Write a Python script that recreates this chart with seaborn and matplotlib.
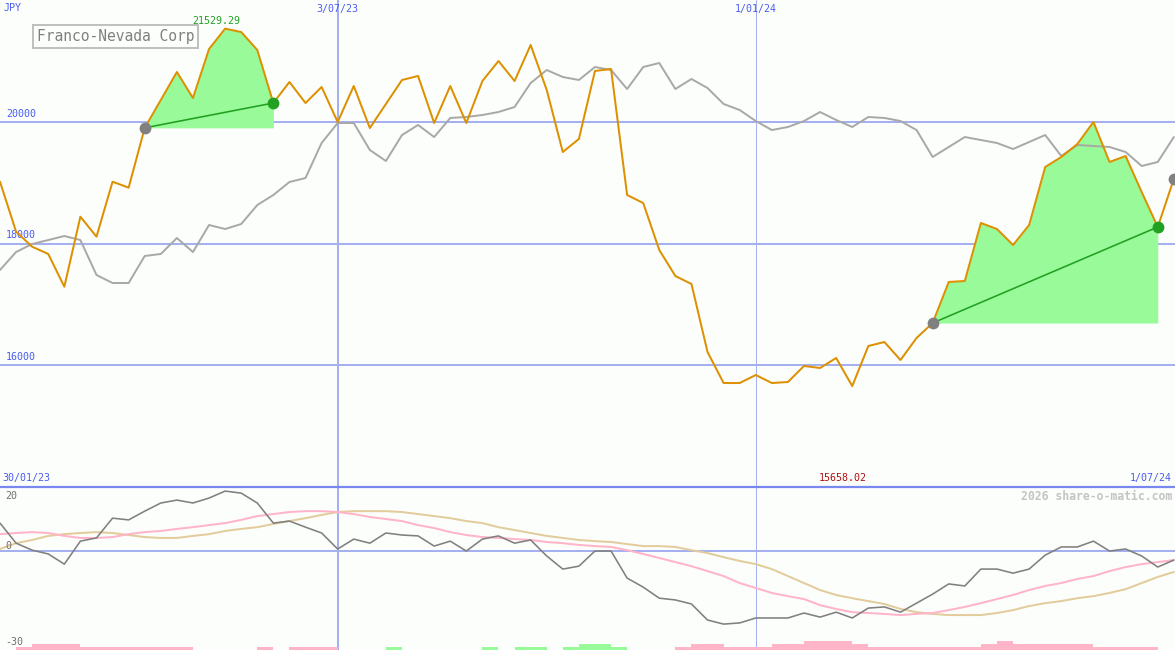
import numpy as np
import pandas as pd
import matplotlib
matplotlib.use("Agg")
import matplotlib.pyplot as plt
import seaborn as sns

# ---------------- data ----------------
dates = pd.date_range("2023-02-06", periods=74, freq="7D")

price = [19015, 18194, 17947, 17828, 17290, 18440, 18112, 19015, 18917, 19900,
         20357, 20817, 20390, 21195, 21529.29, 21474, 21179, 20308, 20653, 20308,
         20571, 19996, 20587, 19897, 20292, 20686, 20752, 19979, 20587, 19979,
         20669, 20998, 20669, 21261, 20522, 19503, 19717, 20834, 20867, 18797,
         18665, 17893, 17466, 17335, 16218, 15708, 15708, 15840, 15708, 15725,
         15988, 15955, 16119, 15658.02, 16316, 16382, 16086, 16448, 16694, 17368,
         17384, 18337, 18238, 17975, 18304, 19257, 19421, 19635, 19996, 19339,
         19437, 18846, 18271, 19060]

compare = [17565, 17860, 17992, 18057, 18123, 18057, 17483, 17351, 17351, 17795,
           17828, 18090, 17860, 18304, 18238, 18320, 18632, 18797, 19010, 19076,
           19651, 19979, 19979, 19536, 19355, 19782, 19947, 19749, 20062, 20078,
           20111, 20160, 20242, 20636, 20850, 20735, 20686, 20899, 20850, 20538,
           20899, 20965, 20538, 20702, 20554, 20292, 20193, 20012, 19864, 19914,
           20012, 20160, 20029, 19914, 20078, 20062, 20012, 19864, 19421, 19585,
           19749, 19700, 19651, 19552, 19667, 19782, 19437, 19618, 19602, 19585,
           19503, 19273, 19339, 19749]

momentum = [9.6, 2.7, 0.3, -1.0, -4.5, 3.4, 4.5, 11.3, 10.7, 13.7,
            16.5, 17.5, 16.5, 18.2, 20.6, 19.9, 16.5, 9.6, 10.3, 8.2,
            6.2, 0.7, 4.1, 2.7, 6.2, 5.5, 5.2, 1.7, 3.4, 0.0,
            4.1, 5.2, 2.7, 3.8, -1.7, -6.2, -5.2, 0.0, 0.0, -9.3,
            -12.4, -16.2, -16.8, -18.2, -23.7, -25.1, -24.7, -23.0, -23.0, -23.0,
            -21.3, -22.7, -21.0, -23.0, -19.6, -19.2, -21.0, -17.9, -14.8, -11.3,
            -12.0, -6.2, -6.2, -7.6, -6.2, -1.4, 1.4, 1.4, 3.4, 0.0,
            0.7, -1.7, -5.5, -3.1]

ma_fast = [5.8, 6.2, 6.5, 6.2, 5.2, 4.5, 4.5, 4.8, 5.8, 6.5,
           6.9, 7.6, 8.2, 8.9, 9.6, 10.7, 12.0, 12.7, 13.4, 13.7,
           13.7, 13.4, 12.7, 11.7, 11.0, 10.3, 8.9, 7.9, 6.5, 5.5,
           4.8, 4.5, 4.1, 3.8, 3.1, 2.7, 2.1, 1.7, 1.4, 0.3,
           -1.0, -2.4, -3.8, -5.2, -6.9, -8.6, -11.0, -12.7, -14.4, -15.5,
           -16.5, -18.6, -19.9, -21.0, -21.3, -21.6, -22.0, -21.6, -21.3, -20.3,
           -19.2, -17.9, -16.5, -15.1, -13.4, -12.0, -11.0, -9.6, -8.6, -6.9,
           -5.5, -4.5, -3.8, -3.1]

ma_slow = [0.7, 2.7, 3.8, 5.2, 5.8, 6.2, 6.5, 6.2, 5.5, 4.8,
           4.5, 4.5, 5.2, 5.8, 6.9, 7.6, 8.2, 9.3, 10.3, 11.3,
           12.4, 13.4, 13.7, 13.7, 13.7, 13.4, 12.7, 12.0, 11.3, 10.3,
           9.6, 8.2, 7.2, 6.2, 5.2, 4.5, 3.8, 3.4, 3.1, 2.4,
           1.7, 1.7, 1.4, 0.3, -0.7, -2.1, -3.4, -4.5, -6.2, -8.6,
           -11.0, -13.4, -15.1, -16.2, -17.2, -18.2, -19.9, -21.0, -21.6, -22.0,
           -22.0, -22.0, -21.3, -20.3, -18.9, -17.9, -17.2, -16.2, -15.5, -14.4,
           -13.1, -11.0, -8.9, -7.2]

hist = [0, -1, -2, -2, -2, -1, -1, -1, -1, -1,
        -1, -1, 0, 0, 0, 0, -1, 0, -1, -1,
        -1, 0, 0, 0, 1, 0, 0, 0, 0, 0,
        1, 0, 1, 1, 0, 1, 2, 2, 1, 0,
        0, 0, -1, -2, -2, -1, -1, -1, -2, -2,
        -3, -3, -3, -2, -1, -1, -1, -1, -1, -1,
        -1, -2, -3, -2, -2, -2, -2, -2, -1, -1,
        -1, -1, 0, 0]

price_ticks = [16000, 18000, 20000]
osc_ticks = [20, 0, -30]
vline_dates = ["2023-07-03", "2024-01-01"]
vline_labels = ["3/07/23", "1/01/24"]
start_label = "30/01/23"
end_label = "1/07/24"
currency = "JPY"
title = "Franco-Nevada Corp"
credit = "2026 share-o-matic.com"
rises = [(9, 17), (58, 72)]

# ---------------- style ----------------
BG = "#fcfefc"
GRID = "#a4b0f0"
SEP = "#7888ee"
BLUE_TXT = "#4a5cf0"
ORANGE = "#dd9000"
GRAY = "#a8a8a8"
DARKGRAY = "#808080"
PINK = "#ffb4c8"
TAN = "#e2cc9c"
FILLG = "#98fa98"
LINEG = "#22a022"
PX = 0.72  # points per pixel at dpi 100

sns.set_style("white")
plt.rcParams["font.family"] = ["DejaVu Sans Mono", "DejaVu Sans"]

W, H = 1175, 650
fig = plt.figure(figsize=(W / 100, H / 100), dpi=100, facecolor=BG)
ax = fig.add_axes([0, 163 / H, 1, 487 / H])
axb = fig.add_axes([0, 0, 1, 163 / H])

for a in (ax, axb):
    a.set_facecolor(BG)
    for s in a.spines.values():
        s.set_visible(False)
    a.set_xticks([])
    a.set_yticks([])

xmin = dates[0]
xmax = dates[-1] + pd.Timedelta(hours=12)

# ---------------- top panel ----------------
ax.set_xlim(xmin, xmax)
ax.set_ylim(14000, 22000)
for t in price_ticks:
    ax.axhline(t, color=GRID, lw=2 * PX, zorder=1)
    ax.annotate(str(t), xy=(0, t), xycoords=("axes fraction", "data"),
                xytext=(6, 3), textcoords="offset pixels", ha="left", va="bottom",
                fontsize=7.2, color=BLUE_TXT)
for d, lab, w in zip(vline_dates, vline_labels, [2, 1]):
    dd = pd.Timestamp(d)
    ax.axvline(dd, color=GRID, lw=w * PX, zorder=1)
    axb.axvline(dd, color=GRID, lw=w * PX, zorder=1)
    ax.annotate(lab, xy=(dd, 1), xycoords=("data", "axes fraction"),
                xytext=(0, -9), textcoords="offset pixels", ha="center", va="center",
                fontsize=7.2, color=BLUE_TXT)

df = pd.DataFrame({"date": dates, "price": price, "compare": compare,
                   "momentum": momentum, "ma_fast": ma_fast, "ma_slow": ma_slow,
                   "hist": hist})

# highlighted rises
for a0, b0 in rises:
    seg = df.iloc[a0:b0 + 1]
    ax.fill_between(seg["date"], seg["price"], price[a0], color=FILLG, lw=0, zorder=2)

sns.lineplot(data=df, x="date", y="compare", ax=ax, color=GRAY, lw=1.4 * PX * 1.4, zorder=3)
sns.lineplot(data=df, x="date", y="price", ax=ax, color=ORANGE, lw=2 * PX, zorder=4)

for a0, b0 in rises:
    ax.plot([dates[a0], dates[b0]], [price[a0], price[b0]], color=LINEG, lw=1.6 * PX, zorder=5)
    ax.plot(dates[a0], price[a0], "o", color=DARKGRAY, ms=8.5, mew=0, zorder=6)
    ax.plot(dates[b0], price[b0], "o", color=LINEG, ms=8.5, mew=0, zorder=6)
ax.plot(dates[-1], price[-1], "o", color=DARKGRAY, ms=8.5, mew=0, zorder=6)

ax.set_xlabel("")
ax.set_ylabel("")

imax = int(np.argmax(price))
imin = int(np.argmin(price))
ax.annotate(f"{price[imax]:.2f}", xy=(dates[imax], price[imax]), xytext=(-9, 8),
            textcoords="offset pixels", ha="center", va="center", fontsize=7.2,
            color=LINEG, zorder=7)
ax.annotate(f"{price[imin]:.2f}", xy=(dates[imin], 0), xycoords=("data", "axes fraction"),
            xytext=(-9, 9), textcoords="offset pixels", ha="center", va="center",
            fontsize=7.2, color="#aa1111", zorder=7)

ax.annotate(start_label, xy=(0, 0), xycoords="axes fraction", xytext=(2, 9),
            textcoords="offset pixels", ha="left", va="center", fontsize=7.2, color=BLUE_TXT)
ax.annotate(end_label, xy=(1, 0), xycoords="axes fraction", xytext=(-3, 9),
            textcoords="offset pixels", ha="right", va="center", fontsize=7.2, color=BLUE_TXT)

fig.text(4 / W, 1 - 8 / H, currency, ha="left", va="center", fontsize=7.2, color=BLUE_TXT)
fig.text(37 / W, 1 - 36.5 / H, title, ha="left", va="center", fontsize=10.5, color="#808080",
         bbox=dict(boxstyle="square,pad=0.25", fc=BG, ec="#c0c0c0", lw=2 * PX))

# ---------------- bottom panel ----------------
axb.set_xlim(xmin, xmax)
axb.set_ylim(-34, 22)
axb.axhline(0, color=GRID, lw=2 * PX, zorder=1)
axb.plot([0, 1], [1, 1], transform=axb.transAxes, color=SEP, lw=2.2 * PX, clip_on=False, zorder=8)

hcolors = [FILLG if h > 0 else PINK for h in hist]
axb.bar(df["date"], np.abs(df["hist"]), bottom=-34, width=7, align="edge",
        color=hcolors, lw=0, zorder=2)

sns.lineplot(data=df, x="date", y="ma_slow", ax=axb, color=TAN, lw=2 * PX, zorder=3)
sns.lineplot(data=df, x="date", y="ma_fast", ax=axb, color=PINK, lw=2 * PX, zorder=3)
sns.lineplot(data=df, x="date", y="momentum", ax=axb, color=DARKGRAY, lw=1.6 * PX, zorder=4)
axb.set_xlabel("")
axb.set_ylabel("")

for t, ypx in zip(osc_ticks, [496, 546, 642]):
    fig.text(5 / W, 1 - ypx / H, str(t), ha="left", va="center", fontsize=7.2, color="#707070")

fig.text(1172 / W, 1 - 496 / H, credit, ha="right", va="center", fontsize=8.3,
         color="#c4c4c4", fontweight="bold")

fig.savefig("out.png", dpi=100, facecolor=BG)
